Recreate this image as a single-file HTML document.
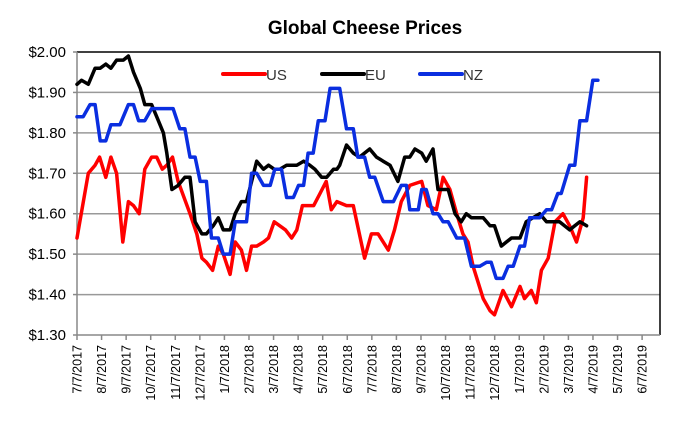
<!DOCTYPE html>
<html><head><meta charset="utf-8"><style>
body{margin:0;background:#fff;width:682px;height:430px;overflow:hidden;font-family:"Liberation Sans",Arial,sans-serif}
</style></head><body>
<svg id="chart" width="682" height="430" xmlns="http://www.w3.org/2000/svg"></svg>
<script>
const yTicks=[1.3,1.4,1.5,1.6,1.7,1.8,1.9,2.0];
const xTickLabels=["7/7/2017","8/7/2017","9/7/2017","10/7/2017","11/7/2017","12/7/2017","1/7/2018","2/7/2018","3/7/2018","4/7/2018","5/7/2018","6/7/2018","7/7/2018","8/7/2018","9/7/2018","10/7/2018","11/7/2018","12/7/2018","1/7/2019","2/7/2019","3/7/2019","4/7/2019","5/7/2019","6/7/2019"];
const usWeeks=[0,2,3.2,4,5.1,6,7,8.1,9.1,10,11,12,13.2,14.1,15.1,15.9,16.9,17.9,20,21.2,22.1,22.9,24,25,25.9,27.1,28,29.1,30,30.9,31.8,33,33.9,34.9,35.9,36.9,38,38.9,39.9,40.9,41.9,43,44.1,45,46,47.7,48.9,50.9,52.1,53.3,55.1,56.2,57.4,58.9,61,62.1,63.6,64.8,66,67.2,68.3,69.2,70.1,71.9,73.1,73.9,75.4,76.9,78.4,79.2,80.4,81.3,82.2,83.4,84.6,86,87.2,88.4,89.6,90.2];
const usVals=[1.54,1.70,1.72,1.74,1.69,1.74,1.70,1.53,1.63,1.62,1.60,1.71,1.74,1.74,1.71,1.72,1.74,1.68,1.60,1.55,1.49,1.48,1.46,1.52,1.50,1.45,1.53,1.51,1.46,1.52,1.52,1.53,1.54,1.58,1.57,1.56,1.54,1.56,1.62,1.62,1.62,1.65,1.68,1.61,1.63,1.62,1.62,1.49,1.55,1.55,1.51,1.56,1.63,1.67,1.68,1.62,1.61,1.69,1.66,1.60,1.55,1.53,1.47,1.39,1.36,1.35,1.41,1.37,1.42,1.39,1.41,1.38,1.46,1.49,1.58,1.60,1.57,1.53,1.59,1.69];
const euWeeks=[0,0.8,2,3.2,4.1,5.1,6,7,8.2,9.1,10,11.2,12,13.2,14.1,15.3,15.9,16.8,17.9,19.1,20,20.9,22.1,22.9,24.1,25,25.9,27.1,28,29.1,30,30.9,31.8,33,33.9,34.9,35.9,37.1,38.9,40.1,41.2,42.1,43.3,44.2,45.4,46,46.5,47.7,48.9,50,51.8,53,54.2,55.4,56.8,58,58.9,59.8,61,61.8,63,63.9,65.7,66.9,68,68.9,69.8,71.9,73.1,73.9,75.1,76,76.9,78.4,79.5,80.7,81.9,83.1,84.3,85.4,87.2,88.1,89,90.2];
const euVals=[1.92,1.93,1.92,1.96,1.96,1.97,1.96,1.98,1.98,1.99,1.95,1.91,1.87,1.87,1.84,1.80,1.75,1.66,1.67,1.69,1.69,1.58,1.55,1.55,1.57,1.59,1.56,1.56,1.60,1.63,1.63,1.68,1.73,1.71,1.72,1.71,1.71,1.72,1.72,1.73,1.72,1.71,1.69,1.69,1.71,1.71,1.72,1.77,1.75,1.74,1.76,1.74,1.73,1.72,1.68,1.74,1.74,1.76,1.75,1.73,1.76,1.66,1.66,1.60,1.58,1.60,1.59,1.59,1.57,1.57,1.52,1.53,1.54,1.54,1.58,1.59,1.60,1.58,1.58,1.58,1.56,1.57,1.58,1.57];
const nzWeeks=[0,1.1,2.3,3.2,4.1,5.1,6,7.6,9.1,10,10.9,12,13.2,17,18.2,19.1,20,20.9,21.8,22.9,23.8,25,25.9,27.1,28,30,30.9,31.8,33,34.2,35,36.2,37.1,38.3,39.2,40.1,40.9,41.8,42.7,43.9,44.8,46.5,47.7,48.9,49.7,50.9,51.8,52.7,54.2,56,57.4,58.3,58.9,60.4,61,61.8,63,63.9,64.8,65.7,67.2,68.6,69.8,71.3,72.5,73.3,74.2,75.4,76.3,77.2,78.4,79.2,80.1,81.9,83.1,84,85.1,85.7,87.2,88.1,89,90.2,91.3,92.2];
const nzVals=[1.84,1.84,1.87,1.87,1.78,1.78,1.82,1.82,1.87,1.87,1.83,1.83,1.86,1.86,1.81,1.81,1.74,1.74,1.68,1.68,1.54,1.54,1.50,1.50,1.58,1.58,1.70,1.70,1.67,1.67,1.71,1.71,1.64,1.64,1.67,1.67,1.75,1.75,1.83,1.83,1.91,1.91,1.81,1.81,1.74,1.74,1.69,1.69,1.63,1.63,1.67,1.67,1.61,1.61,1.66,1.66,1.60,1.60,1.58,1.58,1.54,1.54,1.47,1.47,1.48,1.48,1.44,1.44,1.47,1.47,1.52,1.52,1.59,1.59,1.61,1.61,1.65,1.65,1.72,1.72,1.83,1.83,1.93,1.93];

const NS="http://www.w3.org/2000/svg";
const svg=document.getElementById('chart');
const L=77,R=660,T=52,B=335,TICK0=77,MONTHPX=24.57,WEEKPX=5.65;
function yS(v){return B-(v-1.3)/0.7*(B-T);}
function xW(w){return TICK0+w*WEEKPX;}
function xM(i){return TICK0+i*MONTHPX;}
function mk(tag,attrs){const e=document.createElementNS(NS,tag);for(const k in attrs)e.setAttribute(k,attrs[k]);svg.appendChild(e);return e;}

const title=mk('text',{x:365,y:34,'text-anchor':'middle','font-size':19,'font-weight':'bold',fill:'#000'});
title.textContent='Global Cheese Prices';



yTicks.forEach(v=>{
  const y=yS(v);
  if(v>1.3&&v<2.0){const g=mk('line',{x1:L,x2:R,y1:y,y2:y,stroke:'#999','stroke-width':1.5});
  
  }
  const t=mk('text',{x:66,y:y+5,'text-anchor':'end','font-size':15,fill:'#000'});
  t.textContent='$'+v.toFixed(2);
  
  
  mk('line',{x1:L-4,x2:L,y1:y,y2:y,stroke:'#888','stroke-width':1.5});
});
const topB=mk('path',{d:`M${L},${T}H${R}V${B}`,fill:'none',stroke:'#000','stroke-width':1.5});


const axes=mk('path',{d:`M${L},${T}V${B}H${R}`,fill:'none',stroke:'#888','stroke-width':1.5});



xTickLabels.forEach((lab,i)=>{
  const x=xM(i);
  mk('line',{x1:x,x2:x,y1:B,y2:B+5,stroke:'#888','stroke-width':1.5});
  const t=mk('text',{x:0,y:0,'text-anchor':'end','font-size':12.5,fill:'#000',transform:`translate(${x+4.5},${B+10}) rotate(-90)`});
  t.textContent=lab;
  
  
});

function series(ws,vs,color,name){
  const d=ws.map((w,i)=>(i?'L':'M')+xW(w).toFixed(1)+','+yS(vs[i]).toFixed(1)).join('');
  const p=mk('path',{d:d,fill:'none',stroke:color,'stroke-width':3.5,'stroke-linejoin':'round','stroke-linecap':'round'});
  
  
}
series(usWeeks,usVals,'#ff0000','us-line');
series(euWeeks,euVals,'#000000','eu-line');
series(nzWeeks,nzVals,'#0a2ee0','nz-line');

[['US','#ff0000',223],['EU','#000000',322],['NZ','#0a2ee0',420]].forEach(([n,c,x])=>{
  const l=mk('line',{x1:x,x2:x+42,y1:74,y2:74,stroke:c,'stroke-width':4,'stroke-linecap':'round'});
  
  
  const t=mk('text',{x:x+43,y:80,'font-size':15,fill:'#333'});
  t.textContent=n;
  
  
});
</script>
</body></html>
